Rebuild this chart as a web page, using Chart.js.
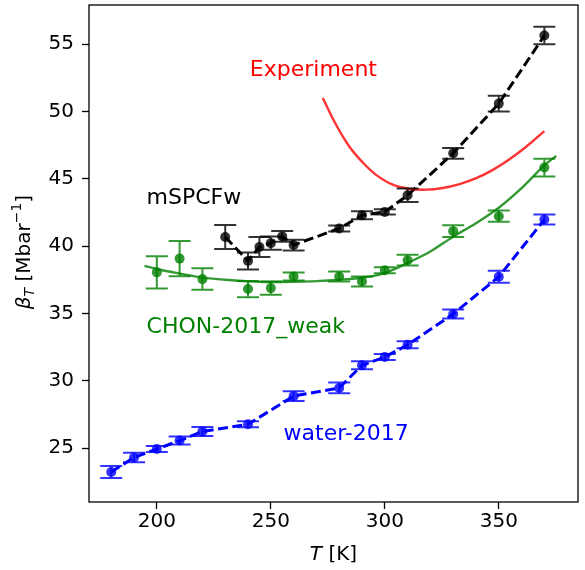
<!DOCTYPE html>
<html>
<head>
<meta charset="utf-8">
<script src="https://cdn.jsdelivr.net/npm/chart.js@4"></script>
<style>
  body { margin: 0; background: #fff; }
</style>
</head>
<body>
<canvas id="betaChart" width="585" height="570"></canvas>
<script>
// mSPCFw (black, dashed)
const tempsBlack = [230, 240, 245, 250, 255, 260, 280, 290, 300, 310, 330, 350, 370];
const betaBlack = [40.67, 38.9, 39.93, 40.22, 40.72, 40.08, 41.31, 42.29, 42.54, 43.77, 46.89, 50.58, 55.63];
const errBlack = [0.89, 0.63, 0.74, 0.5, 0.4, 0.4, 0.22, 0.3, 0.2, 0.5, 0.4, 0.59, 0.65];

// CHON-2017_weak (green points + fit)
const tempsGreen = [200, 210, 220, 240, 250, 260, 280, 290, 300, 310, 330, 350, 370];
const betaGreen = [38.05, 39.07, 37.55, 36.81, 36.88, 37.74, 37.74, 37.37, 38.2, 38.95, 41.11, 42.22, 45.83];
const errGreen = [1.2, 1.3, 0.8, 0.6, 0.5, 0.3, 0.37, 0.37, 0.22, 0.4, 0.43, 0.42, 0.66];
const tempsFit = [194.6, 200, 210, 220, 230, 240, 250, 260, 270, 280, 290, 300, 310, 320, 330, 340, 350, 360, 370, 375.2];
const betaFit = [38.53, 38.3, 37.96, 37.66, 37.5, 37.38, 37.33, 37.35, 37.4, 37.5, 37.65, 38.0, 38.75, 39.6, 40.7, 41.7, 42.85, 44.3, 46.0, 46.7];

// water-2017 (blue, dashed)
const tempsBlue = [180, 190, 200, 210, 220, 240, 260, 280, 290, 300, 310, 330, 350, 370];
const betaBlue = [23.23, 24.31, 24.93, 25.56, 26.23, 26.77, 28.86, 29.47, 31.15, 31.76, 32.67, 34.96, 37.72, 41.97];
const errBlue = [0.44, 0.35, 0.22, 0.3, 0.33, 0.22, 0.37, 0.4, 0.3, 0.22, 0.26, 0.33, 0.45, 0.37];

// Experiment (red curve)
const tempsExp = [272.8, 278.7, 284.5, 290.4, 296.2, 303.5, 310.8, 318.2, 325.4, 332.8, 340.1, 347.4, 354.7, 362, 370];
const betaExp = [51.0, 48.99, 47.38, 46.2, 45.29, 44.56, 44.26, 44.19, 44.31, 44.6, 45.04, 45.66, 46.45, 47.38, 48.54];

const xTicks = [200, 250, 300, 350];
const yTicks = [25, 30, 35, 40, 45, 50, 55];

// text labels placed in data coordinates
const labels = [
    { text: 'Experiment', x: 240.8, y: 53.07, color: '#ff0000' },
    { text: 'mSPCFw', x: 195.5, y: 43.55, color: '#000000' },
    { text: 'CHON-2017_weak', x: 195.5, y: 34.0, color: '#008000' },
    { text: 'water-2017', x: 255.6, y: 26.05, color: '#0000ff' }
];

const FONT = '"DejaVu Sans", sans-serif';

const toPoints = (xs, ys) => xs.map((x, i) => ({ x: x, y: ys[i] }));

const errorBarPlugin = {
    id: 'errorBars',
    afterDatasetsDraw(chart) {
        const ctx = chart.ctx;
        const xs = chart.scales.x;
        const ys = chart.scales.y;
        chart.data.datasets.forEach(ds => {
            if (!ds.errors) return;
            ctx.save();
            ctx.strokeStyle = ds.errorColor;
            ctx.lineWidth = 2;
            ds.data.forEach((p, i) => {
                const px = xs.getPixelForValue(p.x);
                const top = ys.getPixelForValue(p.y + ds.errors[i]);
                const bot = ys.getPixelForValue(p.y - ds.errors[i]);
                ctx.beginPath();
                ctx.moveTo(px, top);
                ctx.lineTo(px, bot);
                ctx.moveTo(px - 11, top);
                ctx.lineTo(px + 11, top);
                ctx.moveTo(px - 11, bot);
                ctx.lineTo(px + 11, bot);
                ctx.stroke();
            });
            ctx.restore();
        });
    }
};

const decorPlugin = {
    id: 'decor',
    afterDraw(chart) {
        const ctx = chart.ctx;
        const area = chart.chartArea;
        const xs = chart.scales.x;
        const ys = chart.scales.y;
        ctx.save();
        // frame
        ctx.strokeStyle = '#000';
        ctx.lineWidth = 1.3;
        ctx.strokeRect(area.left, area.top, area.right - area.left, area.bottom - area.top);

        // annotations
        ctx.font = '22px ' + FONT;
        ctx.textAlign = 'left';
        ctx.textBaseline = 'middle';
        labels.forEach(l => {
            ctx.fillStyle = l.color;
            ctx.fillText(l.text, xs.getPixelForValue(l.x), ys.getPixelForValue(l.y));
        });

        // x title: T [K]
        ctx.fillStyle = '#000';
        const big = '20px ' + FONT;
        const bigIt = 'italic 20px ' + FONT;
        const small = '14px ' + FONT;
        const smallIt = 'italic 14px ' + FONT;
        const xParts = [
            { t: 'T', f: bigIt, dy: 0 },
            { t: ' [K]', f: big, dy: 0 }
        ];
        drawParts(ctx, xParts, (area.left + area.right) / 2, 555);

        // y title: beta_T [Mbar^-1]
        ctx.translate(25, 252);
        ctx.rotate(-Math.PI / 2);
        const yParts = [
            { t: 'β', f: bigIt, dy: 0 },
            { t: 'T', f: smallIt, dy: 5 },
            { t: ' [Mbar', f: big, dy: 0 },
            { t: '−1', f: small, dy: -8 },
            { t: ']', f: big, dy: 0 }
        ];
        drawParts(ctx, yParts, 0, 0);
        ctx.restore();
    }
};

function drawParts(ctx, parts, cx, cy) {
    let total = 0;
    parts.forEach(p => { ctx.font = p.f; total += ctx.measureText(p.t).width; });
    let x = cx - total / 2;
    ctx.textAlign = 'left';
    ctx.textBaseline = 'middle';
    parts.forEach(p => {
        ctx.font = p.f;
        ctx.fillText(p.t, x, cy + p.dy);
        x += ctx.measureText(p.t).width;
    });
}

const ctx = document.getElementById('betaChart').getContext('2d');
const chart = new Chart(ctx, {
    type: 'line',
    data: {
        datasets: [
            {
                data: toPoints(tempsExp, betaExp),
                borderColor: 'rgba(255,0,0,0.8)',
                borderWidth: 2.4,
                pointRadius: 0,
                tension: 0.4
            },
            {
                data: toPoints(tempsFit, betaFit),
                borderColor: 'rgba(0,128,0,0.8)',
                borderWidth: 2.4,
                pointRadius: 0,
                cubicInterpolationMode: 'monotone'
            },
            {
                data: toPoints(tempsGreen, betaGreen),
                showLine: false,
                pointRadius: 5,
                pointBorderWidth: 0,
                pointBackgroundColor: 'rgba(0,128,0,0.8)',
                errors: errGreen,
                errorColor: 'rgba(0,128,0,0.8)'
            },
            {
                data: toPoints(tempsBlack, betaBlack),
                borderColor: '#000',
                borderWidth: 3,
                borderDash: [10, 4.5],
                tension: 0,
                pointRadius: 5,
                pointBorderWidth: 0,
                pointBackgroundColor: 'rgba(0,0,0,0.8)',
                errors: errBlack,
                errorColor: 'rgba(0,0,0,0.8)'
            },
            {
                data: toPoints(tempsBlue, betaBlue),
                borderColor: '#0000ff',
                borderWidth: 3,
                borderDash: [10, 4.5],
                tension: 0,
                pointRadius: 5,
                pointBorderWidth: 0,
                pointBackgroundColor: 'rgba(0,0,255,0.8)',
                errors: errBlue,
                errorColor: 'rgba(0,0,255,0.8)'
            }
        ]
    },
    options: {
        responsive: false,
        animation: false,
        devicePixelRatio: 1,
        layout: { padding: { top: 3, right: 7, left: 0, bottom: 0 } },
        plugins: {
            legend: { display: false },
            tooltip: { enabled: false }
        },
        scales: {
            x: {
                type: 'linear',
                min: 170.25,
                max: 384.75,
                afterBuildTicks: scale => { scale.ticks = xTicks.map(v => ({ value: v })); },
                afterFit: scale => {
                    scale.height = 68;
                    scale.paddingLeft = 0;
                    scale.paddingRight = 0;
                },
                border: { display: false },
                grid: { drawOnChartArea: false, drawTicks: true, tickLength: 7, tickWidth: 1.3, color: '#000' },
                ticks: { color: '#000', font: { family: FONT, size: 20 }, padding: 1, maxRotation: 0 }
            },
            y: {
                type: 'linear',
                min: 21.0,
                max: 57.9,
                afterBuildTicks: scale => { scale.ticks = yTicks.map(v => ({ value: v })); },
                afterFit: scale => {
                    scale.width = 89;
                    scale.paddingTop = 0;
                    scale.paddingBottom = 0;
                },
                border: { display: false },
                grid: { drawOnChartArea: false, drawTicks: true, tickLength: 7, tickWidth: 1.3, color: '#000' },
                ticks: { color: '#000', font: { family: FONT, size: 20 }, padding: 8 }
            }
        }
    },
    plugins: [errorBarPlugin, decorPlugin]
});
</script>
</body>
</html>
